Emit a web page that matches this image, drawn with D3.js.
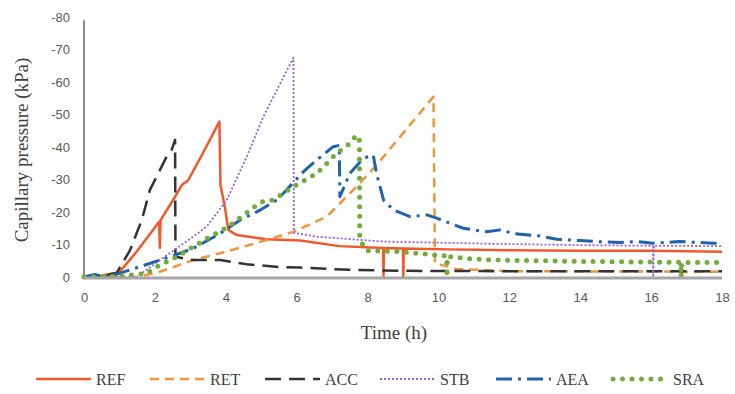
<!DOCTYPE html>
<html>
<head>
<meta charset="utf-8">
<script src="https://cdn.jsdelivr.net/npm/d3@7"></script>
<style>
  body { margin: 0; background: #fff; }
  svg { display: block; }
  .tick text { font-family: "Liberation Sans", Arial, sans-serif; font-size: 13px; fill: #595959; }
  .title { font-family: "Liberation Serif", "Times New Roman", serif; fill: #404040; }
  .legend text { font-family: "Liberation Serif", "Times New Roman", serif; font-size: 16px; fill: #404040; }
</style>
</head>
<body>
<div id="chart"></div>
<script>
// time (h), capillary pressure (kPa)
var REF = [[0,0],[0.5,-0.5],[1.0,-1.5],[1.5,-8],[2.12,-17],[2.14,-9],[2.16,-17.5],[2.57,-24.7],[2.76,-28.3],[2.94,-29.8],
    [3.3,-37],[3.82,-47.8],[3.85,-28.3],[3.98,-21.2],[4.07,-14.5],[4.31,-12.9],[5.15,-11.6],[6.1,-11.2],[7.2,-9.5],
    [8.44,-8.9],[8.45,0],[8.46,-8.9],[9.0,-8.8],[9.01,0],[9.02,-8.8],[10.3,-8.5],[12,-8.2],[14,-8.1],[16,-8.1],[18,-7.8]];
var RET = [[0,0],[1.5,0],[2.14,-1.6],[3.08,-5.2],[3.84,-7.3],[4.59,-9.6],[5.15,-11.4],[5.91,-13.9],[6.85,-18.6],[7.69,-27.8],
    [8.26,-34.5],[8.92,-43.2],[9.39,-49.3],[9.86,-55.5],[9.9,-4.2],[10.5,-2.5],[12,-1.8],[18,-1.6]];
var ACC = [[0,0],[0.5,-0.3],[0.92,-1.2],[1.3,-8.3],[1.63,-17.5],[1.86,-26.8],[2.14,-32.9],[2.33,-37],[2.47,-39],[2.57,-42.2],
    [2.58,-6.2],[3.08,-5.2],[3.84,-5.2],[4.59,-3.9],[5.5,-3.1],[6.1,-2.9],[7.5,-2.2],[8.9,-1.9],[11.6,-1.8],[14,-1.8],[18,-1.8]];
var STB = [[0,0],[1.0,0],[1.49,0],[2.14,-5.2],[3.08,-12.4],[3.46,-15.5],[4.03,-23.7],[4.59,-37],[5.06,-49.3],[5.44,-57.5],
    [5.91,-67.5],[5.92,-13.6],[6.57,-12.4],[8.45,-10.9],[11.64,-10.2],[14,-9.8],[16.05,-9.6],[16.06,0],[16.08,-9.6],[18,-9.5]];
var AEA = [[0,0],[0.3,-0.8],[0.6,0],[1.02,-1.2],[1.72,-3.7],[2.14,-5.2],[2.71,-7.3],[3.08,-8.8],[3.84,-13.4],[4.4,-17.5],
    [4.97,-20.6],[5.44,-23.7],[5.62,-25.7],[6.19,-32.4],[6.57,-36],[7.03,-40.1],[7.2,-40.5],[7.22,-24.7],[7.5,-31.9],
    [7.88,-36.5],[8.16,-37.5],[8.25,-32],[8.45,-23.7],[8.73,-20.6],[9.2,-18.6],[9.67,-19.1],[9.95,-18.1],[10.7,-15],
    [11.36,-13.9],[11.74,-14.5],[12.11,-13.4],[12.87,-12.6],[13.34,-11.6],[14,-11.2],[14.47,-10.9],[15.12,-10.6],
    [15.59,-10.9],[16.06,-10.4],[16.8,-10.9],[17.76,-10.4],[18,-10.4]];
var SRA = [[0,0],[1.0,-0.3],[1.77,-1.1],[2.14,-3.7],[2.62,-6.2],[3.08,-9.3],[3.56,-12.4],[4.07,-15.5],[4.68,-20.5],[4.97,-23],
    [5.34,-23.7],[5.91,-27.8],[6.57,-31.9],[7.13,-38.1],[7.5,-41.1],[7.69,-43.7],[7.77,-42],[7.78,-11.4],[7.98,-8.1],
    [8.92,-7.8],[9.86,-6.8],[10.23,-6.5],[10.24,0],[10.25,-6.3],[10.8,-5.7],[11.64,-5.2],[14,-4.8],[16.84,-4.5],
    [16.85,0],[16.86,-4.5],[18,-4.5]];

var seriesNames = ['REF', 'RET', 'ACC', 'STB', 'AEA', 'SRA'];
var seriesData = [REF, RET, ACC, STB, AEA, SRA];
var xTicks = [0, 2, 4, 6, 8, 10, 12, 14, 16, 18];
var yTicks = [0, -10, -20, -30, -40, -50, -60, -70, -80];

// line styles per series
var styles = {
    REF: { color: '#f2582a', width: 2.5, dash: null, cap: 'butt' },
    RET: { color: '#f0953a', width: 2.5, dash: '9,6', cap: 'butt' },
    ACC: { color: '#333333', width: 2.5, dash: '16,8', cap: 'butt' },
    STB: { color: '#9461cf', width: 1.8, dash: '2,2', cap: 'butt' },
    AEA: { color: '#1f62ad', width: 3, dash: '16,6,3,6', cap: 'butt' },
    SRA: { color: '#72ad3a', width: 5, dash: '0,9.5', cap: 'round' }
};

var width = 735, height = 394,
    svg = d3.select('#chart')
        .append('svg')
        .attr('width', width)
        .attr('height', height);

var x = d3.scaleLinear().domain([0, 18]).range([84, 722]);
var y = d3.scaleLinear().domain([0, -80]).range([277, 17]);

// y axis
svg.append('g')
    .attr('transform', 'translate(84,0)')
    .call(d3.axisLeft(y).tickValues(yTicks).tickSize(0).tickPadding(14).tickFormat(function (d) { return String(d); }))
    .call(function (g) { g.select('.domain').remove(); });

svg.append('line')
    .attr('x1', x(0)).attr('x2', x(0))
    .attr('y1', y(-79)).attr('y2', y(0))
    .attr('stroke', '#8c8c8c').attr('stroke-width', 2);

// x axis
svg.append('g')
    .attr('transform', 'translate(0,' + y(0) + ')')
    .call(d3.axisBottom(x).tickValues(xTicks).tickSize(0).tickPadding(16).tickFormat(function (d) { return String(d); }))
    .call(function (g) { g.select('.domain').remove(); });

// lines
var line = d3.line()
    .x(function (d) { return x(d[0]); })
    .y(function (d) { return y(d[1]); });

svg.append('g').selectAll('path')
    .data(seriesNames)
    .enter().append('path')
    .attr('d', function (d, i) { return line(seriesData[i]); })
    .attr('fill', 'none')
    .attr('stroke', function (d) { return styles[d].color; })
    .attr('stroke-width', function (d) { return styles[d].width; })
    .attr('stroke-dasharray', function (d) { return styles[d].dash; })
    .attr('stroke-linecap', function (d) { return styles[d].cap; })
    .attr('stroke-linejoin', 'round');

svg.append('line')
    .attr('x1', x(0)).attr('x2', x(18))
    .attr('y1', y(0) + 1).attr('y2', y(0) + 1)
    .attr('stroke', '#a6a6a6').attr('stroke-width', 3);

// axis titles
svg.append('text')
    .attr('class', 'title')
    .attr('transform', 'translate(28,150) rotate(-90)')
    .attr('text-anchor', 'middle')
    .style('font-size', '19px')
    .text('Capillary pressure (kPa)');

svg.append('text')
    .attr('class', 'title')
    .attr('x', 394).attr('y', 339)
    .attr('text-anchor', 'middle')
    .style('font-size', '19px')
    .text('Time (h)');

// legend
var legendX = [36, 150, 265, 380, 496, 613];
var legend = svg.append('g').attr('class', 'legend');
var items = legend.selectAll('g')
    .data(seriesNames)
    .enter().append('g')
    .attr('transform', function (d, i) { return 'translate(' + legendX[i] + ',379)'; });

items.append('line')
    .attr('x1', 0).attr('x2', 55)
    .attr('stroke', function (d) { return styles[d].color; })
    .attr('stroke-width', function (d) { return styles[d].width; })
    .attr('stroke-dasharray', function (d) { return styles[d].dash; })
    .attr('stroke-linecap', function (d) { return styles[d].cap; });

items.append('text')
    .attr('x', 60).attr('y', 5.5)
    .text(function (d) { return d; });
</script>
</body>
</html>
